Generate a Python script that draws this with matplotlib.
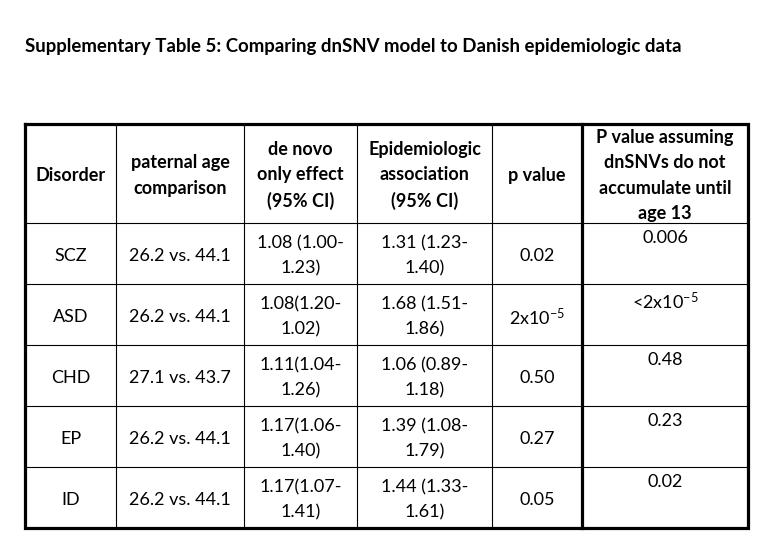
import matplotlib
matplotlib.use("Agg")
import matplotlib.pyplot as plt

plt.rcParams['font.family'] = ['Lato', 'DejaVu Sans']
plt.rcParams['mathtext.fontset'] = 'custom'
plt.rcParams['mathtext.rm'] = 'Lato'
plt.rcParams['mathtext.it'] = 'Lato:italic'
plt.rcParams['mathtext.bf'] = 'Lato:bold'

TITLE = "Supplementary Table 5: Comparing dnSNV model to Danish epidemiologic data"

headers = ["Disorder", "paternal age\ncomparison", "de novo\nonly effect\n(95% CI)",
           "Epidemiologic\nassociation\n(95% CI)", "p value",
           "P value assuming\ndnSNVs do not\naccumulate until\nage 13"]

disorders = ["SCZ", "ASD", "CHD", "EP", "ID"]
age_comparison = ["26.2 vs. 44.1", "26.2 vs. 44.1", "27.1 vs. 43.7", "26.2 vs. 44.1", "26.2 vs. 44.1"]
de_novo_effect = ["1.08 (1.00-\n1.23)", "1.08(1.20-\n1.02)", "1.11(1.04-\n1.26)",
                  "1.17(1.06-\n1.40)", "1.17(1.07-\n1.41)"]
epi_association = ["1.31 (1.23-\n1.40)", "1.68 (1.51-\n1.86)", "1.06 (0.89-\n1.18)",
                   "1.39 (1.08-\n1.79)", "1.44 (1.33-\n1.61)"]
p_values = ["0.02", r"2x10$^{\mathregular{-5}}$", "0.50", "0.27", "0.05"]
p_no_accum = ["0.006", r"<2x10$^{\mathregular{-5}}$", "0.48", "0.23", "0.02"]

# layout in pixels
W, H = 774, 541
col_edges = [25, 116, 244, 357, 492, 582, 748]
row_edges = [124, 223, 284, 345, 406, 467, 528]
thick, thin = 2.3, 0.8
fs = 13
ls = 1.6

fig = plt.figure(figsize=(W / 100, H / 100), dpi=100)
ax = fig.add_axes([0, 0, 1, 1])
ax.set_xlim(0, W)
ax.set_ylim(H, 0)
ax.axis('off')

ax.text(25, 52, TITLE, fontsize=13.45, fontweight='bold', ha='left', va='baseline')

# grid lines
for y in row_edges[1:-1]:
    ax.plot([col_edges[0], col_edges[-1]], [y, y], color='black', lw=thin)
for i, x in enumerate(col_edges[1:-1]):
    lw = thick if i == 4 else thin
    ax.plot([x, x], [row_edges[0], row_edges[-1]], color='black', lw=lw)
ax.plot([col_edges[0], col_edges[-1], col_edges[-1], col_edges[0], col_edges[0]],
        [row_edges[0], row_edges[0], row_edges[-1], row_edges[-1], row_edges[0]],
        color='black', lw=thick, solid_joinstyle='miter')

def cx(c):
    return (col_edges[c] + col_edges[c + 1]) / 2

def cy(r):
    return (row_edges[r] + row_edges[r + 1]) / 2

for c, h in enumerate(headers):
    ax.text(cx(c), cy(0) + 2, h, fontsize=fs, fontweight='bold', ha='center', va='center',
            linespacing=ls, multialignment='center')

columns = [disorders, age_comparison, de_novo_effect, epi_association, p_values]
for c, values in enumerate(columns):
    for r, v in enumerate(values):
        ax.text(cx(c), cy(r + 1) + 2.5, v, fontsize=fs, ha='center', va='center',
                linespacing=1.7, multialignment='center')

for r, v in enumerate(p_no_accum):
    ax.text(cx(5), row_edges[r + 1] + 7, v, fontsize=fs, ha='center', va='top')

fig.savefig("out.png", dpi=100)
